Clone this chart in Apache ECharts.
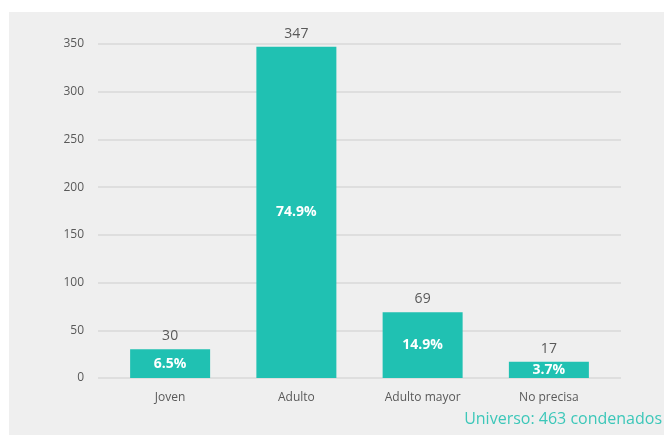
<!DOCTYPE html>
<html><head><meta charset="utf-8">
<script src="https://cdn.jsdelivr.net/npm/echarts@6/dist/echarts.min.js"></script>
<style>html,body{margin:0;padding:0;background:#fff}#c{width:664px;height:435px}</style>
</head><body><div id="c"></div>
<script>
const categories = ['Joven', 'Adulto', 'Adulto mayor', 'No precisa'];
const counts = [30, 347, 69, 17];
const percents = [6.5, 74.9, 14.9, 3.7];
const yTicks = { min: 0, max: 350, interval: 50 };
const footnote = 'Universo: 463 condenados';

const font = '"Open Sans", "Noto Sans", sans-serif';
const chart = echarts.init(document.getElementById('c'), null, { renderer: 'canvas' });
chart.setOption({
  animation: false,
  backgroundColor: '#ffffff',
  textStyle: { fontFamily: font },
  graphic: [
    { type: 'rect', z: -10, shape: { x: 9, y: 12, width: 660, height: 430 }, style: { fill: '#efefef' } },
    { type: 'text', right: 2, top: 411, style: { text: footnote, fill: '#3cc7b9', font: '16px ' + font, textAlign: 'right' } }
  ],
  grid: [
    { left: 98, right: 43, top: 44, bottom: 57 },
    { left: 107, right: 52, top: 44, bottom: 57 }
  ],
  xAxis: [
    { type: 'category', gridIndex: 0, data: categories, show: false },
    { type: 'category', gridIndex: 1, data: categories,
      axisLine: { show: false }, axisTick: { show: false },
      axisLabel: { color: '#595959', fontSize: 12, margin: 14, fontFamily: font } }
  ],
  yAxis: [
    { type: 'value', gridIndex: 0, min: yTicks.min, max: yTicks.max, interval: yTicks.interval,
      axisLine: { show: false }, axisTick: { show: false },
      axisLabel: { color: '#595959', fontSize: 12, margin: 14, fontFamily: font },
      splitLine: { lineStyle: { color: '#d9d9d9', width: 1.5 } } },
    { type: 'value', gridIndex: 1, min: yTicks.min, max: yTicks.max, interval: yTicks.interval, show: false,
      splitLine: { show: false } }
  ],
  series: [
    { type: 'bar', xAxisIndex: 1, yAxisIndex: 1, data: counts, barWidth: 80,
      itemStyle: { color: '#20c1b2' },
      label: { show: true, position: 'top', distance: 6, color: '#595959', fontSize: 14, fontFamily: font } },
    { type: 'bar', xAxisIndex: 1, yAxisIndex: 1, data: counts, barWidth: 80, barGap: '-100%',
      itemStyle: { color: 'rgba(0,0,0,0)' },
      label: { show: true, position: 'inside', color: '#ffffff', fontSize: 14, fontWeight: 'bold', fontFamily: font,
        formatter: p => percents[p.dataIndex].toFixed(1) + '%' } }
  ]
});
</script></body></html>
